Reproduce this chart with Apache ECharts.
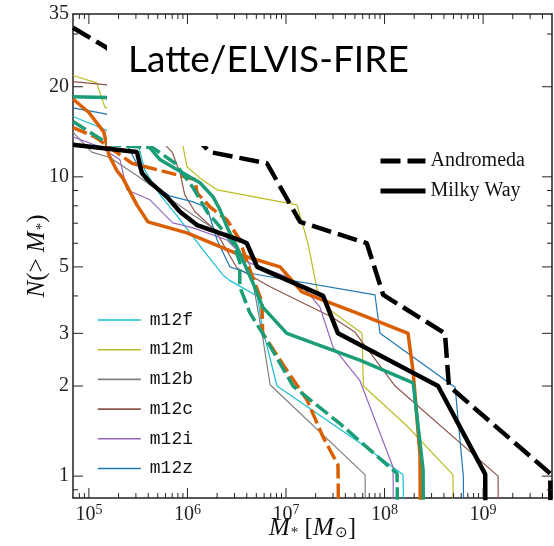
<!DOCTYPE html>
<html>
<head>
<meta charset="utf-8">
<script src="https://cdn.jsdelivr.net/npm/echarts@6/dist/echarts.min.js"></script>
<style>
  html, body { margin: 0; padding: 0; background: #fff; }
  #chart { width: 554px; height: 546px; }
</style>
</head>
<body>
<div id="chart"></div>
<script>
// cumulative satellite counts N(>M*), pairs of [M*, N]
var m12f = [[6.9e4,15.9],[1.45e5,14.4],[3.2e5,12.6],[3.7e5,10.5],[5.3e5,8.7],[8.4e5,7.2],[1.44e6,5.7],[2.29e6,4.7],[2.7e6,4.5],[5.1e6,4.0],[5.8e6,3.1],[8.1e6,2.0],[6.05e7,1.27],[1.54e8,1.01],[1.6e8,0.5]];
var m12m = [[6.9e4,21.8],[1.2e5,20.6],[1.45e5,17.1],[9.0e5,12.7],[9.9e5,10.8],[1.34e6,9.9],[2.0e6,9.05],[1.29e7,8.06],[1.45e7,7.07],[1.67e7,6.0],[2.07e7,4.19],[2.8e7,3.59],[5.9e7,3.0],[6.1e7,2.0],[1.69e8,1.47],[4.95e8,1.01],[5.0e8,0.5]];
var m12b = [[6.9e4,14.1],[1.07e5,12.1],[1.63e5,11.6],[3.2e5,10.0],[4.9e5,9.05],[1.14e6,7.46],[2.52e6,6.3],[4.3e6,5.08],[5.8e6,2.91],[6.9e6,2.02],[6.35e7,1.01],[6.4e7,0.5]];
var m12c = [[6.9e4,20.8],[1.52e5,20.3],[7.0e5,12.1],[8.4e5,10.3],[9.4e5,8.7],[1.19e6,7.64],[1.9e6,6.65],[3.18e6,4.96],[6.9e6,4.29],[3.0e7,3.38],[5.0e7,3.03],[1.28e8,2.0],[1.42e9,1.0],[1.43e9,0.5]];
var m12i = [[6.9e4,13.6],[1.29e5,12.6],[2.07e5,11.4],[2.43e5,9.05],[4.16e5,8.38],[7.1e5,7.02],[1.14e6,6.75],[2.52e6,6.15],[4.3e6,5.15],[1.02e7,4.63],[1.49e7,4.29],[2.21e7,3.67],[3.0e7,2.7],[5.6e7,2.09],[1.22e8,1.07],[1.24e8,0.5]];
var m12z = [[6.9e4,17.0],[1.52e5,16.2],[2.6e5,12.3],[3.7e5,9.8],[6.6e5,8.64],[1.14e6,8.25],[1.58e6,7.88],[2.0e6,6.15],[2.7e6,5.0],[4.0e6,4.78],[8.0e7,4.03],[9.0e7,3.0],[5.2e8,1.98],[6.3e8,1.0],[6.4e8,0.5]];
var elvisOrange = [[6.9e4,18.2],[1.0e5,16.4],[1.42e5,14.1],[1.6e5,11.8],[1.92e5,10.5],[2.21e5,9.9],[3.07e5,8.06],[3.97e5,7.07],[9.9e5,6.5],[3.4e6,5.49],[8.7e6,5.0],[1.45e7,4.13],[2.07e7,3.94],[5.6e7,3.48],[1.73e8,3.0],[1.95e8,2.23],[2.29e8,1.17],[2.32e8,0.5]];
var elvisOrangeDash = [[6.9e4,14.6],[1.15e5,13.6],[2.73e5,11.1],[9.4e5,10.0],[1.19e6,9.8],[1.25e6,8.84],[1.69e6,7.94],[2.52e6,7.18],[3.4e6,6.15],[4.02e6,5.19],[5.7e6,3.82],[5.8e6,3.0],[9.8e6,2.3],[1.63e7,1.8],[2.38e7,1.35],[3.37e7,1.09],[3.45e7,0.5]];
var elvisGreen = [[6.9e4,18.5],[1.52e5,18.4],[5.3e5,11.4],[9.0e5,10.3],[1.34e6,9.55],[1.82e6,8.57],[2.14e6,7.76],[2.52e6,6.8],[3.18e6,5.83],[4.62e6,4.42],[5.8e6,3.67],[1.02e7,3.0],[5.6e7,2.44],[1.95e8,2.05],[2.46e8,1.05],[2.5e8,0.5]];
var elvisGreenDash = [[6.9e4,15.3],[1.63e5,12.8],[4.47e5,12.5],[7.5e5,11.1],[1.14e6,9.2],[1.58e6,7.64],[2.14e6,6.8],[2.9e6,6.0],[3.4e6,5.19],[3.4e6,4.29],[4.3e6,3.51],[5.8e6,3.0],[1.18e7,2.0],[1.75e7,1.8],[3.5e7,1.5],[6.6e7,1.25],[1.34e8,1.02],[1.37e8,0.5]];
var andromeda = [[6.9e4,31.5],[1.52e5,27.0],[1.69e6,12.1],[6.4e6,11.1],[1.39e7,7.07],[6.6e7,6.0],[9.7e7,4.03],[4.1e8,3.0],[4.5e8,2.0],[4.8e9,1.02],[4.85e9,0.5]];
var milkyWay = [[6.9e4,12.8],[3.07e5,12.1],[3.45e5,10.3],[4.16e5,9.6],[6.2e5,8.57],[8.4e5,7.64],[1.25e6,6.9],[3.4e6,6.15],[4.0e6,6.0],[5.1e6,5.0],[2.38e7,4.0],[3.37e7,3.0],[3.49e8,2.0],[1.05e9,1.015],[1.06e9,0.5]];

// axis ranges and ticks
var xMin = 6.9e4, xMax = 5e9, yMin = 0.845, yMax = 35;
var xMajor = [1e5, 1e6, 1e7, 1e8, 1e9];
var xMinor = [8e4, 9e4, 2e5, 3e5, 4e5, 5e5, 6e5, 7e5, 8e5, 9e5, 2e6, 3e6, 4e6, 5e6, 6e6, 7e6, 8e6, 9e6,
              2e7, 3e7, 4e7, 5e7, 6e7, 7e7, 8e7, 9e7, 2e8, 3e8, 4e8, 5e8, 6e8, 7e8, 8e8, 9e8, 2e9, 3e9, 4e9];
var yLabels = [1, 2, 3, 5, 10, 20, 35];
var yMajor = [1, 2, 3, 5, 10, 20];
var yMinor = [0.9, 4, 6, 7, 8, 9, 30];

var serif = 'Liberation Serif';
var mono = 'Liberation Mono';

var myChart = echarts.init(document.getElementById('chart'));

function xAx(pos, showLabel) {
    return {
        type: 'log', min: xMin, max: xMax, position: pos,
        axisLine: {show: true, onZero: false, lineStyle: {color: '#222', width: 1.5}},
        axisTick: {show: false},
        minorTick: {show: false},
        splitLine: {show: false},
        axisLabel: showLabel ? {
            show: true, customValues: xMajor, margin: 5,
            formatter: function (v) {
                return '{b|10}{s|' + Math.round(Math.log(v) / Math.LN10) + '}';
            },
            rich: {
                b: {fontFamily: serif, fontSize: 20, color: '#222', lineHeight: 22, verticalAlign: 'bottom'},
                s: {fontFamily: serif, fontSize: 14, color: '#222', lineHeight: 14, verticalAlign: 'top'}
            }
        } : {show: false}
    };
}
function yAx(pos, showLabel) {
    return {
        type: 'log', min: yMin, max: yMax, position: pos,
        axisLine: {show: true, onZero: false, lineStyle: {color: '#222', width: 1.5}},
        axisTick: {show: false},
        minorTick: {show: false},
        splitLine: {show: false},
        axisLabel: showLabel ? {
            show: true, customValues: yLabels, margin: 4,
            fontFamily: serif, fontSize: 20, color: '#222'
        } : {show: false}
    };
}

var nameRich = {
    i: {fontFamily: serif, fontStyle: 'italic', fontSize: 25, color: '#111'},
    sub: {fontFamily: serif, fontSize: 15, color: '#111', verticalAlign: 'bottom', padding: [9, 0, 0, 1]}
};

var xAxes = [xAx('bottom', true), xAx('top', false)];
xAxes[0].name = '{i|M}{sub|*} [{i|M}{sub|\u2299}]';
xAxes[0].nameLocation = 'middle';
xAxes[0].nameGap = 18;
xAxes[0].nameMoveOverlap = false;
xAxes[0].nameTextStyle = {rich: nameRich, fontFamily: serif, fontSize: 25, color: '#111'};

var yAxes = [yAx('left', true), yAx('right', false)];
yAxes[0].name = '{i|N}(> {i|M}{sub|*})';
yAxes[0].nameLocation = 'middle';
yAxes[0].nameGap = 23;
yAxes[0].nameMoveOverlap = false;
yAxes[0].nameTextStyle = {rich: nameRich, fontFamily: serif, fontSize: 25, color: '#111'};

function line(name, data, color, width, type) {
    return {
        name: name, type: 'line', data: data, symbol: 'none', silent: true,
        xAxisIndex: 0, yAxisIndex: 0, clip: true,
        lineStyle: {color: color, width: width, type: type || 'solid'},
        itemStyle: {color: color}
    };
}

var seriesList = [
    line('m12f', m12f, '#17becf', 1.2),
    line('m12m', m12m, '#bcbd22', 1.2),
    line('m12b', m12b, '#7f7f7f', 1.2),
    line('m12c', m12c, '#8c564b', 1.2),
    line('m12i', m12i, '#9467bd', 1.2),
    line('m12z', m12z, '#1f77b4', 1.2),
    line('ELVIS A', elvisOrange, '#d95f02', 3.5),
    line('ELVIS B', elvisOrangeDash, '#d95f02', 3.5, [15, 5]),
    line('ELVIS C', elvisGreen, '#1b9e77', 3.5),
    line('ELVIS D', elvisGreenDash, '#1b9e77', 3.5, [15, 5]),
    line('Milky Way', milkyWay, '#000', 4.5),
    line('Andromeda', andromeda, '#000', 4.5, [20, 7])
];

var option = {
    backgroundColor: '#fff',
    animation: false,
    grid: {left: 73, right: 2, top: 14, bottom: 48, outerBoundsMode: 'none'},
    xAxis: xAxes,
    yAxis: yAxes,
    legend: [
        {
            data: [
                {name: 'Andromeda', lineStyle: {type: [20, 7], width: 5, color: '#000'}},
                {name: 'Milky Way', lineStyle: {type: 'solid', width: 5, color: '#000'}}
            ],
            orient: 'vertical', left: 373, top: 146,
            itemWidth: 45, itemHeight: 14, itemGap: 10, selectedMode: false,
            itemStyle: {opacity: 0, borderWidth: 0},
            textStyle: {fontFamily: serif, fontSize: 20, color: '#111'}
        },
        {
            data: ['m12f', 'm12m', 'm12b', 'm12c', 'm12i', 'm12z'], orient: 'vertical', left: 92, top: 306,
            itemWidth: 43, itemHeight: 14, itemGap: 11.7, selectedMode: false,
            itemStyle: {opacity: 0, borderWidth: 0},
            lineStyle: {width: 1.6},
            textStyle: {fontFamily: mono, fontSize: 18, color: '#111', padding: [0, 0, 0, 4]}
        }
    ],
    graphic: [
        {type: 'rect', z: 100, shape: {x: 107, y: 25, width: 320, height: 121}, style: {fill: '#fff'}},
        {type: 'text', z: 101, x: 128, y: 60,
         style: {text: 'Latte/ELVIS-FIRE', fontFamily: 'Lato', fontSize: 37, fill: '#000', verticalAlign: 'middle'}}
    ],
    series: seriesList
};

myChart.setOption(option);

// tick marks: short segments on all four sides, lengths turned into data units
// through the axes' own scales
var xDec = myChart.convertToPixel({xAxisIndex: 0}, 1e6) - myChart.convertToPixel({xAxisIndex: 0}, 1e5);
var yDec = myChart.convertToPixel({yAxisIndex: 0}, 1) - myChart.convertToPixel({yAxisIndex: 0}, 10);
var tickData = [];
function addX(vals, len) {
    var f = Math.pow(10, len / yDec);
    vals.forEach(function (v) {
        tickData.push([v, yMin], [v, yMin * f], ['-', '-']);
        tickData.push([v, yMax], [v, yMax / f], ['-', '-']);
    });
}
function addY(vals, len) {
    var f = Math.pow(10, len / xDec);
    vals.forEach(function (v) {
        tickData.push([xMin, v], [xMin * f, v], ['-', '-']);
        tickData.push([xMax, v], [xMax / f, v], ['-', '-']);
    });
}
if (xDec > 0 && yDec > 0) {
    addX(xMajor, 10);
    addX(xMinor, 5);
    addY(yMajor, 10);
    addY(yMinor, 5);
    seriesList.push({
        name: 'ticks', type: 'line', data: tickData, symbol: 'none', silent: true,
        connectNulls: false, clip: false, z: 5,
        xAxisIndex: 0, yAxisIndex: 0,
        lineStyle: {color: '#222', width: 1}
    });
    myChart.setOption({series: seriesList});
}
</script>
</body>
</html>
